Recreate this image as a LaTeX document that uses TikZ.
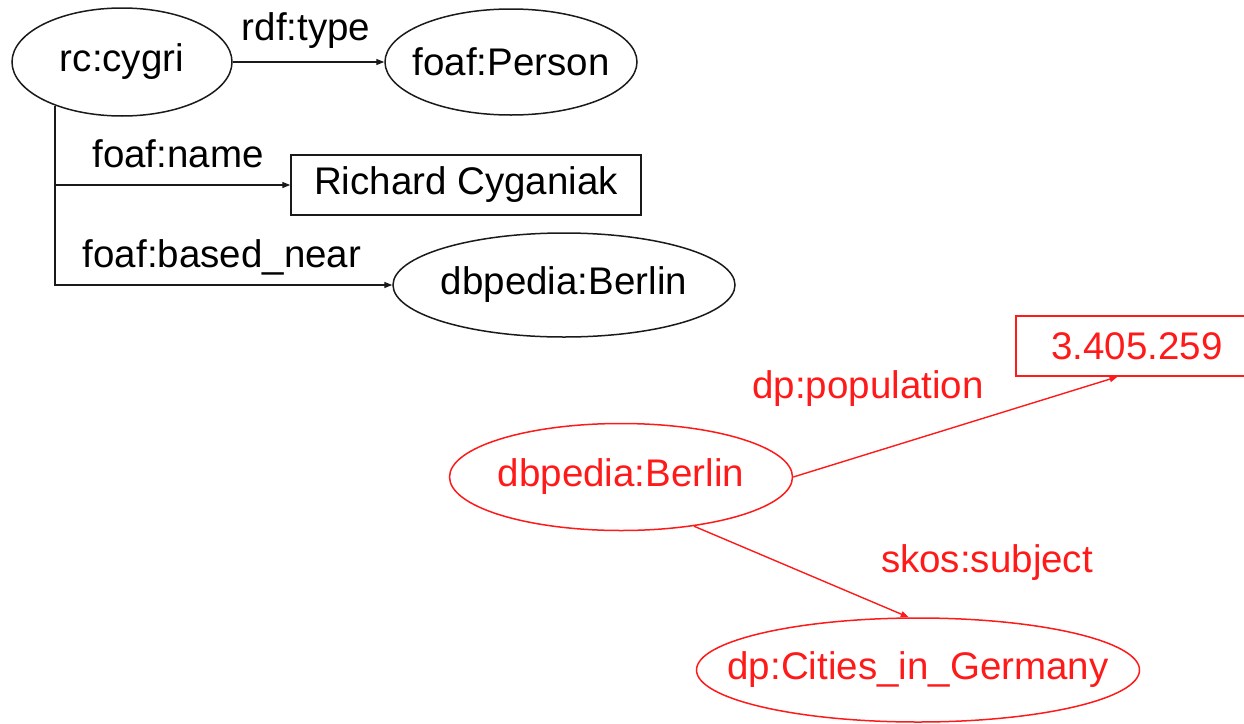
\documentclass[tikz,border=0pt]{standalone}
\usepackage{fontspec}
\setmainfont{Liberation Sans}
\usetikzlibrary{calc,positioning,arrows.meta,shapes.geometric}
\definecolor{ink}{HTML}{1A1A1A}
\definecolor{dbred}{HTML}{FF1A1A}

\begin{document}
\begin{tikzpicture}[x=1pt,y=-1pt,font=\fontsize{38.5}{46}\selectfont,
  res/.style={ellipse,draw=ink,line width=1.5pt,inner sep=-200pt},
  lit/.style={rectangle,draw=ink,line width=1.5pt,inner sep=0pt},
  prop/.style={anchor=base,inner sep=0pt},
  link/.style={-{Triangle[length=8pt,width=6pt]},draw=ink,line width=1.4pt}]
\useasboundingbox (0,0) rectangle (1244,723);
\node[res,minimum width=220,minimum height=108] (cygri) at (122,62) {rc:cygri};
\node[res,minimum width=252,minimum height=106] (person) at (511,62) {foaf:Person};
\node[lit,minimum width=350,minimum height=60] (name) at (466,185) {Richard Cyganiak};
\node[res,minimum width=342,minimum height=104] (berlin) at (564,285) {dbpedia:Berlin};
\draw[link] (cygri.east) -- (person.west);
\draw[link] (cygri.213) |- (name.west);
\draw[link] (cygri.213) |- (berlin.west);
\node[prop] (ltype) at (306,40) {rdf:type};
\node[prop] (lname) at (178,167) {foaf:name};
\node[prop] (lnear) at (222,267) {foaf:based\_near};
% dbpedia side
\begin{scope}[text=dbred]
\node[res,draw=dbred,minimum width=343,minimum height=107] (berlinr) at (621,477) {dbpedia:Berlin};
\node[lit,draw=dbred,minimum width=242,minimum height=60] (popn) at (1137,346) {3.405.259};
\node[res,draw=dbred,minimum width=443,minimum height=104] (cities) at (918,670) {dp:Cities\_in\_Germany};
\draw[link,draw=dbred,fill=dbred] (berlinr.east) -- ($(popn.south west)!0.42!(popn.south east)$);
\draw[link,draw=dbred,fill=dbred] (berlinr.326) -- (cities.100);
\node[prop] (lpop) at (868,398) {dp:population};
\node[prop] (lsubj) at (987,572) {skos:subject};
\end{scope}
\end{tikzpicture}
\end{document}
